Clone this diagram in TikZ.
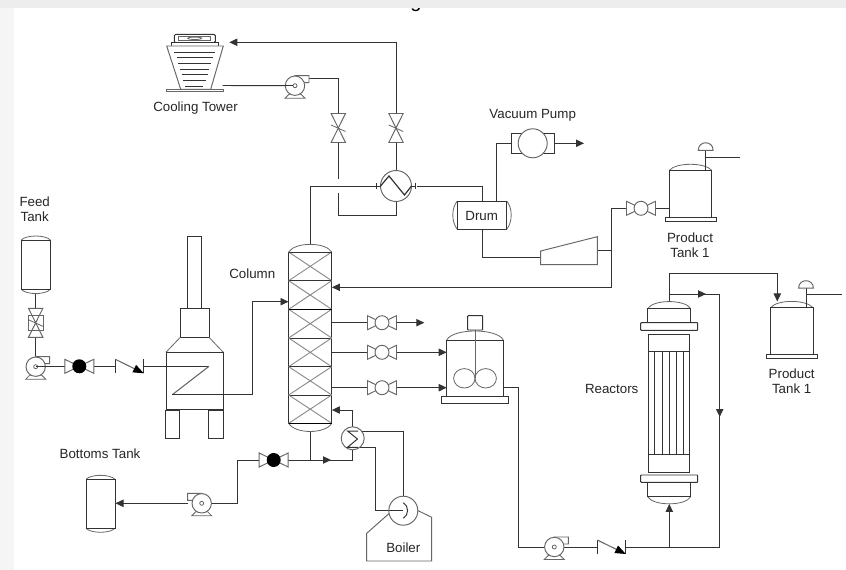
\documentclass[tikz,border=0pt]{standalone}
\usepackage{fontspec}
\setmainfont{Liberation Sans}
\usetikzlibrary{arrows.meta}
\definecolor{ink}{HTML}{333333}
\definecolor{soft}{HTML}{666666}
\tikzset{
  pipe/.style={draw=ink,line width=0.72pt,line join=miter},
  flow/.style={pipe,-{Triangle[length=6pt,width=5.5pt]}},
  equip/.style={draw=ink,line width=0.72pt,fill=white},
  thin part/.style={draw=soft,line width=0.6pt},
  heavy/.style={draw=black,line width=1.1pt},
  label/.style={font=\fontsize{10}{11.5}\selectfont,text=black!85,align=center,inner sep=0pt},
  pics/cpump/.style={code={
    \draw[equip,draw=soft] (0,-10) -- (14,-10) -- (14,-3) -- (8,-3) -- (8,3) -- (-8,3) -- (-8,-3) -- cycle;
    \draw[thin part,fill=white] (-6,8.5) -- (-10,12.5) -- (10,12.5) -- (6,8.5) -- cycle;
    \draw[equip,draw=soft] (0,0) circle (9.7);
    \draw[thin part] (0,0) circle (2);
  }},
  pics/bowtie/.style={code={
    \draw[equip,draw=soft] (-14.5,-7) -- (-14.5,7) -- (14.5,-7) -- (14.5,7) -- cycle;
    \draw[equip,draw=soft] (0,0) circle (7);
  }},
  pics/ballvalve/.style={code={
    \draw[equip,draw=soft] (-14.5,-7) -- (-14.5,7) -- (14.5,-7) -- (14.5,7) -- cycle;
    \fill[black] (0,0) circle (7);
  }},
  pics/checkvalve/.style={code={
    \draw[pipe] (0,-7) -- (0,7) (28.5,-7) -- (28.5,7);
    \draw[draw=soft,line width=0.8pt,-{Triangle[length=8pt,width=6pt,color=black]}] (0,-7) -- (28.5,7);
  }},
  pics/vvalve/.style={code={
    \draw[equip,draw=soft,fill=none] (-7.2,-14.5) -- (7.2,-14.5) -- (-7.2,14.5) -- (7.2,14.5) -- cycle;
    \draw[thin part] (-7.2,-3) -- (7.2,3.5);
  }},
  pics/gauge/.style={code={
    \draw[equip,draw=soft] (-7.4,7.5) .. controls (-7.4,-2.5) and (7.4,-2.5) .. (7.4,7.5) -- cycle;
  }},
}
\begin{document}
\begin{tikzpicture}[x=0.75pt,y=-0.75pt]
\useasboundingbox (0,0) rectangle (846,570);
\fill[white] (0,0) rectangle (846,570);
\node[font=\fontsize{15}{15}\selectfont,anchor=base,inner sep=0pt] (cut) at (416,8) {g};
\fill[black!7] (0,0) rectangle (846,8);
\fill[black!4] (0,8) rectangle (14,570);

% ---------- named points
\coordinate (towerOut) at (222.7,85.5);
\coordinate (towerIn) at (229.3,42.3);
\coordinate (p1) at (295,85.7);
\coordinate (p1out) at (309.3,78.7);
\coordinate (v1) at (338.3,128);
\coordinate (v2) at (396,128);
\coordinate (hx) at (396,186);
\coordinate (colTop) at (310,244.3);
\coordinate (colBot) at (310,431.7);
\coordinate (drumTop) at (482,201);
\coordinate (drumBot) at (482,229.3);
\coordinate (vac) at (532.7,143.3);
\coordinate (v3) at (641,208.3);
\coordinate (v4) at (382,322.7);
\coordinate (v5) at (382,352.3);
\coordinate (v6) at (382,387.7);
\coordinate (feedBot) at (35.7,293.7);
\coordinate (v7) at (35.7,322.8);
\coordinate (p2) at (35.7,366.7);
\coordinate (v8) at (79.3,366.3);
\coordinate (ck1) at (115.3,366.3);
\coordinate (ck2) at (597.3,547);
\coordinate (p3) at (554.3,547);
\coordinate (p4) at (201.7,503.3);
\coordinate (v9) at (273.7,460);
\coordinate (rb) at (352.7,438.3);
\coordinate (boil) at (403.3,510.7);
\coordinate (tee) at (611.7,250.7);

% ---------- pipes
\draw[pipe] (p1) -- (towerOut);
\draw[pipe] (p1out) -- (338.3,78.7) -- (338.3,113.5);
\draw[pipe] (338.3,142.5) -- (338.3,179);
\draw[pipe] (338.3,193.3) -- (338.3,215) -- (396,215) -- (396,201);
\draw[flow] (396,113.5) -- (396,42.3) -- (towerIn);
\draw[pipe] (396,142.5) -- (396,171);
\draw[pipe] (colTop) -- (310,186) -- (380,186);
\draw[pipe] (417,186) -- (482,186) -- (drumTop);
\draw[pipe] (drumBot) -- (482,257.7) -- (541,257.7);
\draw[pipe] (597.3,250.7) -- (tee);
\draw[flow] (626.7,208) -- (611.7,208) -- (611.7,287.3) -- (331.9,287.3);
\draw[pipe] (655.5,208) -- (669.3,208);
\draw[pipe] (496,201) -- (496,143.3) -- (511.3,143.3);
\draw[flow] (554,143.3) -- (584,143.3);
\draw[pipe] (331.7,322.7) -- (367.7,322.7);
\draw[flow] (396.5,322.7) -- (424.3,322.7);
\draw[pipe] (331.7,352.3) -- (367.7,352.3);
\draw[flow] (396.5,352.3) -- (446.7,352.3);
\draw[pipe] (331.7,387.7) -- (367.7,387.7);
\draw[flow] (396.5,387.7) -- (446.7,387.7);
\draw[pipe] (503.5,387.3) -- (518.5,387.3) -- (518.5,547) -- (545,547);
\draw[pipe] (564,547) -- (ck2);
\draw[pipe] (625.8,547) -- (719.7,547) -- (719.7,416);
\draw[flow] (669.3,547) -- (669.3,503.9);
\draw[flow] (719.7,294) -- (719.7,417);
\draw[flow] (669.3,301.7) -- (669.3,294) -- (706,294);
\draw[pipe] (704,294) -- (719.7,294);
\draw[flow] (669.3,294) -- (669.3,273.3) -- (777.3,273.3) -- (777.3,301.5);
\draw[pipe] (35.7,293.7) -- (35.7,308.3);
\draw[pipe] (35.7,337.3) -- (35.7,357);
\draw[pipe] (93.7,366.3) -- (ck1);
\draw[pipe] (144,366.3) -- (166,366.3);
\draw[flow] (223.3,394.7) -- (252.3,394.7) -- (252.3,301.7) -- (288.5,301.7);
\draw[pipe] (colBot) -- (310,460);
\draw[flow] (288.3,460) -- (331,460);
\draw[pipe] (329,460) -- (352.7,460) -- (352.7,450);
\draw[pipe] (259.3,460) -- (237.3,460) -- (237.3,503.3) -- (212,503.3);
\draw[flow] (188,503.3) -- (115.5,503.3);
\draw[flow] (352.3,426.8) -- (352.3,410) -- (331.9,410);
\draw[pipe] (358,431) -- (403.3,431) -- (403.3,496.5);
\draw[pipe] (358,447.3) -- (375,447.3) -- (375,510) -- (389,510);

% ---------- cooling tower
\draw[equip,rounded corners=1pt] (174.3,42.7) -- (174.3,34.3) -- (215.3,34.3) -- (215.3,42.7) -- cycle;
\draw[thin part] (178.7,36.5) rectangle (210.7,40.2);
\draw[thin part] (194.7,38.3) ellipse (7 and 1.2);
\draw[equip] (171.7,42.7) rectangle (218.7,46);
\draw[equip,draw=soft] (166.7,46) -- (223.3,46) -- (210.7,89.3) -- (180.7,89.3) -- cycle;
\draw[equip,draw=soft] (166.7,89.3) rectangle (223.3,91.7);
\foreach \yy/\xa/\xb in {52/174.3/215,57.3/176.7/212.7,63/178.3/211.3,69/180/209,74.3/181.7/207.7,80.3/183.3/205.7,86.3/185/203.3}
  \draw[draw=ink,line width=0.6pt] (\xa,\yy) -- (\xb,\yy);
\pic at (p1) {cpump};
\draw[pipe] (285,85.7) -- (293,85.7);

% ---------- valves on overhead
\pic at (v1) {vvalve};
\pic at (v2) {vvalve};

% ---------- condenser
\draw[equip,draw=soft] (hx) circle (15.5);
\draw[draw=ink,line width=0.9pt] (380.5,186) -- (389,176) -- (404.5,195) -- (411.5,186);
\draw[pipe] (376.3,183) -- (376.3,189) (415.3,183) -- (415.3,189);
\draw[pipe] (376.3,186) -- (380.5,186) (411.5,186) -- (415.3,186);

% ---------- vacuum pump, drum, compressor
\draw[equip] (511.3,133) rectangle (554,153);
\draw[equip,draw=soft] (vac) circle (14.5);
\draw[thin part] (457.3,201) .. controls (451.3,208) and (451.3,222) .. (457.3,229.3);
\draw[thin part] (506.7,201) .. controls (512.7,208) and (512.7,222) .. (506.7,229.3);
\draw[equip] (457.3,201) rectangle (506.7,229.3);
\node[label] (drum) at (481.7,216) {Drum};
\draw[equip,draw=soft] (540.7,251) -- (597.3,236.7) -- (597.3,264.7) -- (540.7,264.7) -- cycle;

% ---------- product tank 1
\pic at (v3) {bowtie};
\draw[thin part] (669.3,170.3) .. controls (676,162.3) and (705,162.3) .. (711.7,170.3);
\draw[equip] (669.3,170.3) rectangle (711.7,217.3);
\draw[equip] (665.3,217.3) rectangle (716,221.3);
\draw[pipe] (705.7,150) -- (705.7,171);
\draw[pipe] (705.7,157.3) -- (740,157.3);
\pic at (705.7,142.8) {gauge};

% ---------- column
\draw[equip] (288.7,252) rectangle (331.7,423.3);
\draw[thin part] (288.7,252) .. controls (295,241.8) and (325.4,241.8) .. (331.7,252);
\draw[thin part] (288.7,423.3) .. controls (295,434.2) and (325.4,434.2) .. (331.7,423.3);
\foreach \ya/\yb in {252/280.7,280.7/309.3,309.3/338,338/366.7,366.7/395,395/423.3}{
  \draw[draw=black!45,line width=0.7pt] (288.7,\ya) -- (331.7,\yb) (331.7,\ya) -- (288.7,\yb);
  \draw[pipe] (288.7,\yb) -- (331.7,\yb);
}
\draw[heavy] (288.7,309.3) -- (331.7,309.3) (288.7,423.3) -- (331.7,423.3);
\draw[pipe] (288.7,252) -- (331.7,252);
\pic at (v4) {bowtie};
\pic at (v5) {bowtie};
\pic at (v6) {bowtie};

% ---------- mixer
\draw[thin part] (446.7,340) .. controls (453,328) and (497,328) .. (503.3,340);
\draw[equip] (446.7,340) rectangle (503.3,396.7);
\draw[equip] (441.7,396.7) rectangle (508.3,403.3);
\draw[thin part] (464.3,378.3) ellipse (10.7 and 9.7);
\draw[thin part] (485.7,378.3) ellipse (10.7 and 9.7);
\draw[thin part] (475,330) -- (475,378);
\draw[equip,rounded corners=0.5pt] (467.7,315.7) rectangle (482.7,330);

% ---------- feed side
\draw[thin part] (21.3,240) .. controls (26,234.7) and (45.6,234.7) .. (50.3,240);
\draw[thin part] (21.3,289.3) .. controls (26,295) and (45.6,295) .. (50.3,289.3);
\draw[equip] (21.3,240) rectangle (50.3,289.3);
\pic at (v7) {vvalve};
\draw[draw=soft,line width=0.7pt] (28.4,315.7) rectangle (43,330);
\pic at (p2) {cpump};
\draw[pipe] (36,366.5) -- (64.7,366.5);
\pic at (v8) {ballvalve};
\pic at (ck1) {checkvalve};

% ---------- furnace
\draw[equip] (187.3,236.7) rectangle (201.7,309.3);
\draw[equip] (180.3,308.3) rectangle (209,337.3);
\draw[thin part] (180.3,337.3) -- (166,352.3) (209,337.3) -- (223.3,352.3);
\draw[pipe] (166,352.3) rectangle (223.3,409.3);
\draw[equip] (165,410) rectangle (179.3,438.3);
\draw[equip] (208.7,410) rectangle (223.3,438.3);
\draw[pipe] (166,366.3) -- (209,366.3);
\draw[draw=soft,line width=0.8pt] (209,366.3) -- (172.3,394.7);
\draw[pipe] (172.3,394.7) -- (223.3,394.7);

% ---------- reactor
\draw[thin part] (647.7,308.7) .. controls (653,299.2) and (685.4,299.2) .. (690.7,308.7);
\draw[equip] (647.7,308.7) rectangle (690.7,322.7);
\draw[equip,rounded corners=0.5pt] (640.7,322.7) rectangle (697.7,330.3);
\draw[equip] (648.7,334) rectangle (689.3,472);
\draw[pipe] (648.7,351) -- (689.3,351) (648.7,454.3) -- (689.3,454.3);
\foreach \xx in {654.3,662.3,669.3,676.7,683.7} \draw[pipe] (\xx,351) -- (\xx,454.3);
\draw[equip,rounded corners=0.5pt] (640.7,475) rectangle (697.7,482.3);
\draw[thin part] (647.7,496.7) .. controls (653,506.2) and (685.4,506.2) .. (690.7,496.7);
\draw[equip] (647.7,482.3) rectangle (690.7,496.7);

% ---------- product tank 2
\draw[thin part] (770.7,307.7) .. controls (777,299.3) and (806,299.3) .. (813,307.7);
\draw[equip] (770.7,307.7) rectangle (813,354.7);
\draw[equip] (766.3,354.7) rectangle (817.3,358.7);
\draw[pipe] (806,287) -- (806,308.3);
\draw[pipe] (806,294) -- (841.7,294);
\pic at (806,280.7) {gauge};

% ---------- bottom right
\pic at (p3) {cpump};
\pic at (ck2) {checkvalve};

% ---------- bottoms
\draw[thin part] (86,479.3) .. controls (91,474) and (110,474) .. (115,479.3);
\draw[thin part] (86,528.3) .. controls (91,533.6) and (110,533.6) .. (115,528.3);
\draw[equip] (86,479.3) rectangle (115,528.3);
\pic[xscale=-1] at (p4) {cpump};
\pic at (v9) {ballvalve};

% ---------- reboiler and boiler
\draw[equip,draw=soft] (rb) circle (11.5);
\draw[draw=ink,line width=0.75pt] (358.2,431) -- (347.5,431) -- (357.5,439) -- (347.5,447.3) -- (358,447.3);
\draw[equip,draw=soft,fill=none] (389.3,513.3) -- (366.7,533.3) -- (366.7,561) -- (431.7,561) -- (431.7,517.3) -- (416.7,510);
\draw[equip,draw=soft] (boil) circle (14.5);
\draw[pipe] (389,510) -- (403.3,510);
\draw[draw=ink,line width=0.75pt] (403.3,502.7) .. controls (409,506) and (409,515) .. (403.3,518.3);

% ---------- labels
\node[label] (lTower) at (195.5,107.7) {Cooling Tower};
\node[label] (lVac) at (532.7,115) {Vacuum Pump};
\node[label] (lFeed) at (34.7,209) {Feed\\Tank};
\node[label] (lCol) at (252.3,274) {Column};
\node[label] (lProd1) at (690,245) {Product\\Tank 1};
\node[label] (lProd2) at (791.7,381.5) {Product\\Tank 1};
\node[label] (lReac) at (611.7,388.7) {Reactors};
\node[label] (lBot) at (100,453.7) {Bottoms Tank};
\node[label] (lBoil) at (403.3,548) {Boiler};
\end{tikzpicture}
\end{document}
